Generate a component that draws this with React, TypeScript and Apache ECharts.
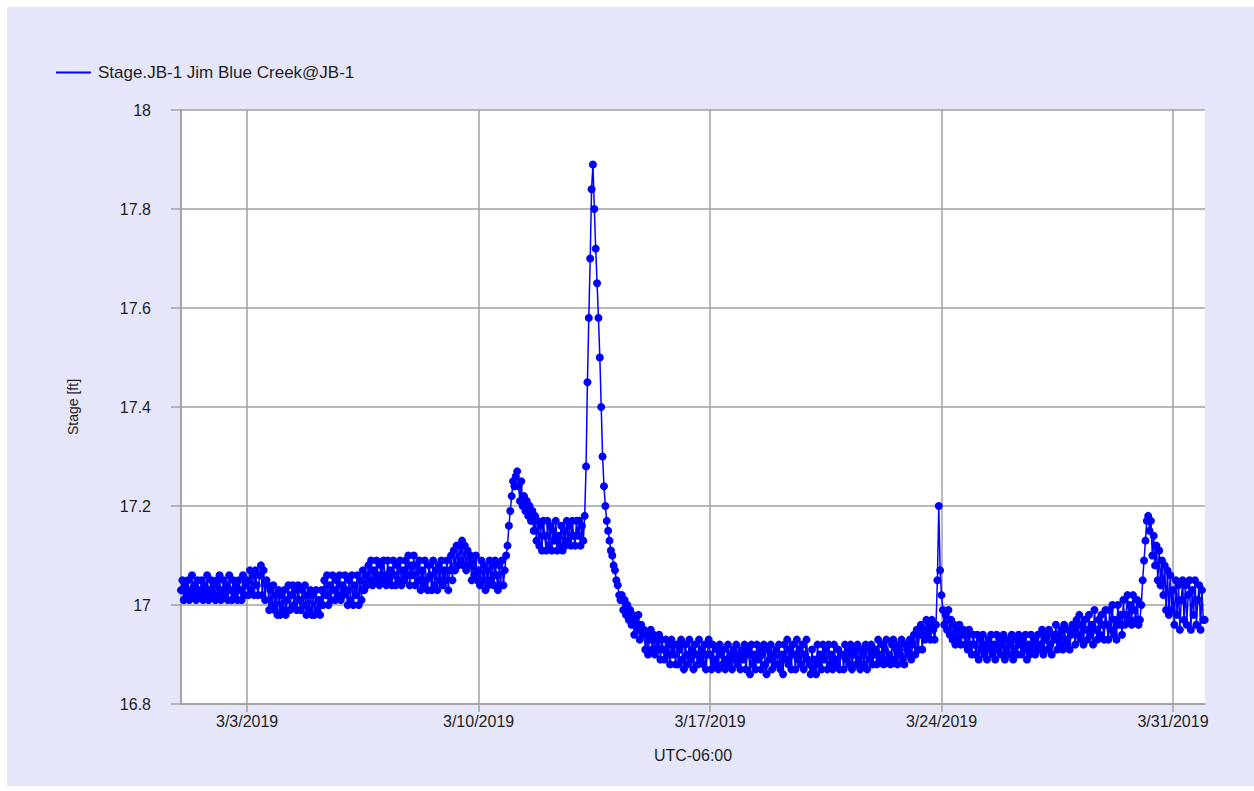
import React, { useEffect, useRef } from "react";
import * as echarts from "echarts";

// Hourly stage readings (ft), starting 3/1/2019 00:00 (UTC-06:00)
const stageMar01to07 = [
  17.03,17.05,17.01,17.04,17.02,17.05,17.01,17.03,17.06,17.02,17.04,17.01,17.05,17.02,17.03,17.05,17.01,17.04,17.02,17.06,17.01,17.03,17.05,17.02,
  17.04,17.01,17.05,17.02,17.06,17.01,17.03,17.05,17.02,17.04,17.01,17.06,17.03,17.01,17.05,17.02,17.04,17.01,17.05,17.03,17.01,17.06,17.02,17.04,
  17.05,17.02,17.07,17.03,17.06,17.02,17.07,17.04,17.02,17.06,17.08,17.02,17.07,17.01,17.05,17.04,16.99,17.03,17.00,17.04,16.99,17.02,16.98,17.03,
  16.98,17.02,16.99,17.03,16.98,17.01,17.04,16.99,17.02,17.04,17.00,17.03,16.99,17.04,17.01,16.99,17.03,17.00,17.04,16.98,17.02,16.99,17.03,16.98,
  17.02,16.98,17.03,16.99,17.01,16.98,17.03,17.00,17.05,17.02,17.06,17.00,17.04,17.01,17.06,17.03,17.01,17.05,17.02,17.06,17.01,17.04,17.02,17.06,
  17.03,17.00,17.05,17.01,17.06,17.00,17.04,17.02,17.06,17.00,17.05,17.01,17.07,17.03,17.06,17.04,17.08,17.05,17.09,17.04,17.07,17.05,17.09,17.06,
  17.04,17.08,17.05,17.09,17.06,17.04,17.09,17.05,17.07,17.04,17.09,17.06,17.04,17.08,17.05,17.09,17.04,17.07,17.05,17.09,17.06,17.10,17.04,17.08,
];
const stageMar08to14 = [
  17.06,17.10,17.04,17.08,17.05,17.09,17.03,17.07,17.04,17.09,17.05,17.03,17.08,17.06,17.03,17.09,17.04,17.07,17.03,17.08,17.05,17.09,17.04,17.07,
  17.05,17.09,17.03,17.07,17.10,17.05,17.11,17.07,17.12,17.08,17.12,17.09,17.13,17.08,17.12,17.07,17.11,17.08,17.10,17.05,17.09,17.06,17.10,17.05,
  17.07,17.04,17.09,17.05,17.08,17.03,17.07,17.04,17.09,17.05,17.08,17.04,17.09,17.06,17.03,17.08,17.04,17.09,17.04,17.07,17.10,17.12,17.16,17.19,
  17.22,17.25,17.24,17.26,17.27,17.24,17.21,17.25,17.20,17.22,17.19,17.21,17.18,17.20,17.17,17.19,17.15,17.18,17.13,17.17,17.12,17.16,17.11,17.17,
  17.14,17.11,17.17,17.12,17.16,17.11,17.15,17.13,17.17,17.11,17.14,17.12,17.16,17.11,17.15,17.12,17.17,17.13,17.16,17.12,17.17,17.14,17.12,17.17,
  17.14,17.17,17.12,17.16,17.13,17.18,17.28,17.45,17.58,17.70,17.84,17.89,17.80,17.72,17.65,17.58,17.50,17.40,17.30,17.24,17.20,17.17,17.15,17.13,
  17.11,17.10,17.08,17.07,17.05,17.04,17.02,17.01,17.02,16.99,17.01,16.98,17.00,16.97,16.99,16.96,16.98,16.94,16.97,16.95,16.98,16.93,16.96,16.94,
];
const stageMar15to21 = [
  16.95,16.91,16.94,16.90,16.93,16.95,16.91,16.94,16.90,16.93,16.91,16.94,16.89,16.93,16.91,16.89,16.93,16.90,16.92,16.88,16.93,16.90,16.92,16.88,
  16.92,16.88,16.91,16.93,16.89,16.87,16.92,16.90,16.88,16.93,16.89,16.91,16.87,16.92,16.90,16.88,16.93,16.89,16.91,16.88,16.92,16.87,16.90,16.93,
  16.90,16.87,16.92,16.89,16.88,16.91,16.87,16.92,16.90,16.88,16.91,16.87,16.89,16.92,16.88,16.90,16.87,16.91,16.89,16.92,16.88,16.90,16.87,16.91,
  16.89,16.92,16.87,16.90,16.91,16.86,16.92,16.88,16.90,16.87,16.92,16.89,16.91,16.87,16.90,16.92,16.88,16.86,16.91,16.89,16.92,16.87,16.90,16.88,
  16.91,16.88,16.92,16.87,16.90,16.86,16.92,16.89,16.93,16.88,16.91,16.87,16.92,16.90,16.87,16.93,16.89,16.91,16.88,16.92,16.87,16.90,16.93,16.89,
  16.88,16.86,16.91,16.87,16.89,16.86,16.92,16.88,16.90,16.87,16.92,16.89,16.91,16.87,16.92,16.88,16.90,16.87,16.92,16.89,16.88,16.91,16.87,16.90,
  16.90,16.87,16.92,16.89,16.91,16.88,16.92,16.87,16.90,16.91,16.88,16.92,16.89,16.87,16.91,16.90,16.88,16.92,16.87,16.91,16.89,16.92,16.88,16.90,
];
const stageMar22to28 = [
  16.91,16.88,16.93,16.90,16.89,16.92,16.88,16.91,16.93,16.89,16.90,16.88,16.92,16.93,16.89,16.91,16.88,16.92,16.90,16.93,16.89,16.88,16.92,16.91,
  16.90,16.93,16.89,16.92,16.94,16.90,16.95,16.91,16.94,16.96,16.91,16.95,16.93,16.97,16.94,16.96,16.93,16.97,16.95,16.93,16.96,17.05,17.20,17.07,
  17.02,16.99,16.96,16.98,16.95,16.99,16.94,16.97,16.93,16.96,16.92,16.95,16.93,16.96,16.92,16.94,16.95,16.92,16.94,16.91,16.95,16.92,16.90,16.94,
  16.92,16.90,16.94,16.89,16.93,16.91,16.94,16.90,16.92,16.89,16.93,16.91,16.94,16.90,16.92,16.89,16.94,16.91,16.93,16.90,16.92,16.94,16.89,16.91,
  16.93,16.90,16.92,16.94,16.89,16.91,16.93,16.90,16.94,16.92,16.90,16.93,16.91,16.94,16.89,16.92,16.90,16.94,16.91,16.93,16.90,16.92,16.94,16.91,
  16.92,16.95,16.90,16.93,16.94,16.91,16.95,16.92,16.90,16.94,16.93,16.96,16.91,16.94,16.92,16.95,16.91,16.96,16.93,16.92,16.95,16.91,16.94,16.96,
  16.95,16.92,16.97,16.94,16.98,16.93,16.96,16.92,16.97,16.95,16.93,16.98,16.94,16.96,16.92,16.99,16.95,16.93,16.97,16.94,16.98,16.96,16.93,16.99,
];
const stageMar29to31 = [
  16.96,16.93,16.99,16.95,17.00,16.94,16.97,16.93,17.00,16.96,16.98,16.94,17.01,16.96,16.98,17.02,16.97,17.00,16.96,17.02,16.99,16.97,17.01,16.96,
  16.97,17.00,17.05,17.09,17.13,17.17,17.18,17.15,17.17,17.10,17.14,17.08,17.12,17.05,17.11,17.04,17.09,17.02,17.08,16.99,17.07,16.98,17.06,16.99,
  17.03,16.96,17.05,16.98,17.04,16.95,17.01,17.05,16.97,17.04,16.96,17.02,17.05,16.95,17.03,16.98,17.05,16.96,17.01,17.04,16.95,17.03,16.97,16.97,
];

const seriesName = "Stage.JB-1 Jim Blue Creek@JB-1";
const tickDays = [2, 9, 16, 23, 30]; // days after 3/1/2019 00:00
const tickLabels = ["3/3/2019", "3/10/2019", "3/17/2019", "3/24/2019", "3/31/2019"];
const yTickValues = [16.8, 17, 17.2, 17.4, 17.6, 17.8, 18];

const FONT = "'Liberation Sans', Arial, sans-serif";
const GRID_COLOR = "#a0a0a0";
const TEXT_COLOR = "#1e1e1e";

export default function App() {
  const ref = useRef<HTMLDivElement>(null);
  useEffect(() => {
    if (!ref.current) return;
    const chart = echarts.init(ref.current, undefined, { renderer: "svg" });
    const all = [
      ...stageMar01to07,
      ...stageMar08to14,
      ...stageMar15to21,
      ...stageMar22to28,
      ...stageMar29to31,
    ];
    const data = all.map((v, i) => [i / 24, v]);
    const xMax = (all.length - 1) / 24 + 0.01;
    chart.setOption({
      animation: false,
      backgroundColor: "#E6E6FA",
      textStyle: { fontFamily: FONT },
      legend: {
        left: 44,
        top: 52,
        icon: "rect",
        itemWidth: 35,
        itemHeight: 2,
        data: [seriesName],
        textStyle: { fontSize: 17, color: TEXT_COLOR, fontFamily: FONT, padding: [0, 0, 0, 2] },
      },
      grid: {
        left: 174,
        top: 103,
        right: 49,
        bottom: 82,
        show: true,
        backgroundColor: "#ffffff",
        borderWidth: 0,
      },
      xAxis: {
        type: "value",
        min: 0,
        max: xMax,
        name: "UTC-06:00",
        nameLocation: "middle",
        nameGap: 43,
        nameTextStyle: { fontSize: 16, color: TEXT_COLOR, fontFamily: FONT },
        axisLine: { show: true, lineStyle: { color: GRID_COLOR, width: 1.5 } },
        axisTick: {
          show: true,
          length: 8,
          customValues: tickDays,
          lineStyle: { color: GRID_COLOR, width: 1.5 },
        },
        axisLabel: {
          show: true,
          customValues: tickDays,
          margin: 9,
          fontSize: 16,
          color: TEXT_COLOR,
          fontFamily: FONT,
          formatter: (v: number) => {
            const idx = tickDays.findIndex((d) => Math.abs(d - v) < 1e-6);
            return idx >= 0 ? tickLabels[idx] : "";
          },
        },
        splitLine: { show: true, lineStyle: { color: GRID_COLOR, width: 1.5 } },
      },
      yAxis: [
        {
          type: "value",
          min: 16.8,
          max: 18,
          interval: 0.2,
          position: "left",
          offset: 26,
          name: "Stage [ft]",
          nameLocation: "middle",
          nameGap: 75,
          nameTextStyle: { fontSize: 14, color: TEXT_COLOR, fontFamily: FONT },
          axisLine: { show: true, lineStyle: { color: GRID_COLOR, width: 1.5 } },
          axisTick: { show: true, length: 10, lineStyle: { color: GRID_COLOR, width: 1.5 } },
          axisLabel: {
            margin: 4,
            fontSize: 16,
            color: TEXT_COLOR,
            fontFamily: FONT,
            customValues: yTickValues,
            formatter: (v: number) => String(+v.toFixed(1)),
          },
          splitLine: { show: true, lineStyle: { color: GRID_COLOR, width: 1.5 } },
        },
        {
          type: "value",
          min: 16.8,
          max: 18,
          interval: 0.2,
          position: "left",
          offset: 0,
          axisLine: { show: true, lineStyle: { color: GRID_COLOR, width: 1.5 } },
          axisTick: { show: false },
          axisLabel: { show: false },
          splitLine: { show: false },
        },
      ],
      series: [
        {
          name: seriesName,
          type: "line",
          yAxisIndex: 0,
          data,
          showSymbol: true,
          showAllSymbol: true,
          symbol: "circle",
          symbolSize: 8,
          itemStyle: { color: "#0000FF", borderWidth: 0 },
          lineStyle: { color: "#0000FF", width: 1.5 },
        },
      ],
    });
    return () => chart.dispose();
  }, []);
  return (
    <div
      ref={ref}
      style={{ position: "absolute", left: 7, top: 7, width: 1247, height: 779 }}
    />
  );
}
